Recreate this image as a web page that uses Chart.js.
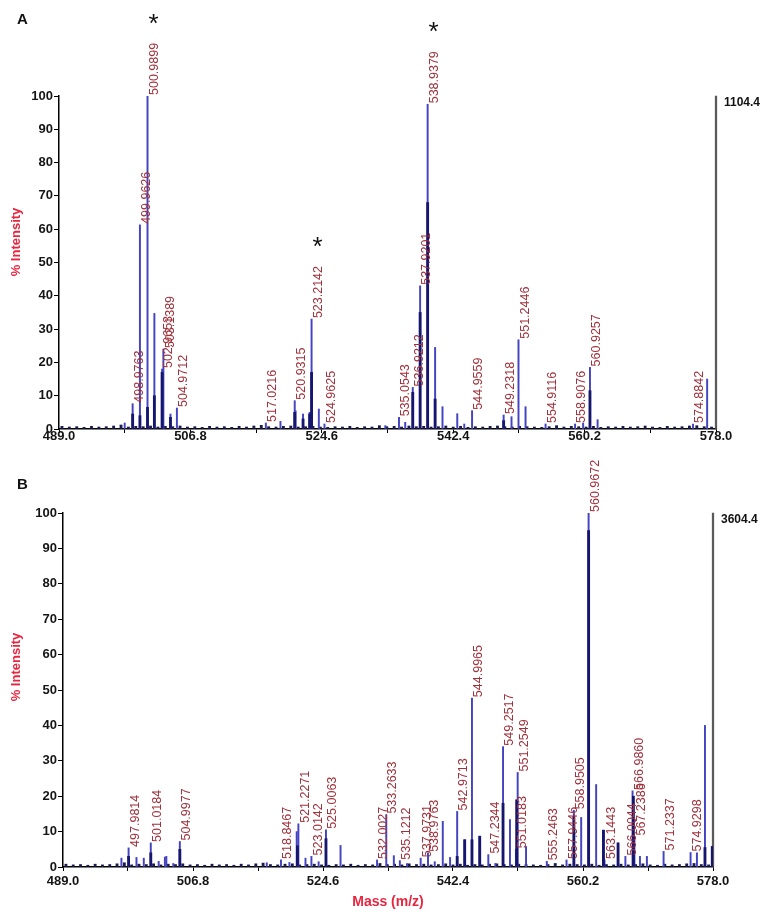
<!DOCTYPE html>
<html>
<head>
<meta charset="utf-8">
<script src="https://cdn.jsdelivr.net/npm/chart.js@4.4.0/dist/chart.umd.min.js"></script>
<style>
  body { margin: 0; background: #fff; }
  #wrap { position: relative; width: 765px; height: 920px; }
  canvas { position: absolute; left: 0; }
</style>
</head>
<body>
<div id="wrap">
  <canvas id="chartA" width="765" height="460" style="top:0"></canvas>
  <canvas id="chartB" width="765" height="470" style="top:450px"></canvas>
</div>
<script>
// axis ticks (m/z)
const xTickLabels = ['489.0', '506.8', '524.6', '542.4', '560.2', '578.0'];
const xMinorTicks = [497.9, 515.7, 533.5, 551.3, 569.1];

// panel A: peak m/z and % intensity
const peaksA_mz = [497.9, 498.9763, 499.9626, 500.9899, 501.92, 502.9653, 503.1389, 504.1, 504.9712,
  517.0216, 519.0, 520.9315, 521.05, 522.06, 522.95, 523.2142, 524.2, 524.9625, 533.2, 535.0543, 535.9,
  536.9212, 537.9201, 538.9379, 539.95, 540.95, 542.95, 543.9, 544.9559, 549.2318, 550.3, 551.2446,
  552.2, 554.9116, 558.9076, 560.0, 560.9257, 561.96, 574.8842, 576.8];
const peaksA_int = [1.8, 7.6, 61.3, 100, 34.7, 18, 24, 4.5, 6.3,
  1.8, 2.3, 8.5, 5.5, 4.5, 5, 33, 6, 1.5, 1, 3.5, 2,
  12.5, 43, 97.5, 24.5, 6.7, 4.6, 1.5, 5.5, 4.2, 3.7, 26.8,
  6.7, 1.5, 1.5, 1.8, 18.5, 2.8, 1.5, 15];
// darker (overlapping) profile parts
const darkA_mz = [498.9763, 499.9626, 500.9899, 501.92, 502.9653, 504.1, 520.9315, 522.06, 522.95,
  523.2142, 536.9212, 537.9201, 538.9379, 539.95, 549.2318, 560.9257];
const darkA_int = [4.5, 4, 6.5, 10, 17, 3.5, 5, 3, 4.5, 17, 11, 35, 68, 9, 2.5, 11.5];
const labelsA = ['498.9763', '499.9626', '500.9899', '502.9653', '503.1389', '504.9712', '517.0216',
  '520.9315', '523.2142', '524.9625', '535.0543', '536.9212', '537.9201', '538.9379', '544.9559',
  '549.2318', '551.2446', '554.9116', '558.9076', '560.9257', '574.8842'];
const starsA = ['500.9899', '523.2142', '538.9379'];
const maxCountA = '1104.4';

// panel B
const peaksB_mz = [497.0, 497.9814, 499.06, 500.06, 501.0184, 502.1, 502.95, 503.15, 504.1, 504.9977,
  516.9, 518.8467, 520.0, 521.0, 521.2271, 522.2, 523.0142, 524.0, 525.0063, 527.0, 532.0027, 533.2633,
  534.3, 535.1212, 536.1, 537.9731, 538.9763, 539.9, 541.0, 542.0, 542.9713, 544.0, 544.9965, 546.06,
  547.2344, 548.2, 549.2517, 550.2, 551.0183, 551.2549, 552.4, 555.2463, 557.9446, 558.9505, 559.95,
  560.9672, 562.0, 563.0, 563.1443, 565.0, 566.0044, 566.986, 567.2386, 568.0, 568.95, 571.2337,
  574.9298, 575.8, 576.9, 577.9];
const peaksB_int = [2.5, 5.4, 2.7, 2.5, 6.8, 1.6, 2.8, 3, 1, 7.2,
  1.2, 2, 1.3, 10, 12.2, 2.5, 3, 1.5, 10.5, 6.1, 2, 14.8,
  3.2, 1.8, 1, 2.5, 4, 1.5, 12.9, 2.7, 15.7, 7.7, 47.7, 8.7,
  3.5, 1, 34, 13.4, 5, 26.7, 5.8, 1.6, 2, 16, 14,
  100, 23.3, 10.4, 2, 6.8, 3, 21.5, 8.6, 3, 3, 4.4,
  4.1, 4, 40, 5.8];
const darkB_mz = [497.9814, 501.0184, 504.9977, 521.1, 525.0063, 542.9713, 544.0, 544.9965, 546.06,
  549.2517, 551.12, 558.9505, 560.9672, 563.0, 565.0, 567.1, 576.9, 577.9];
const darkB_int = [3, 4, 5, 6, 8, 3, 7.7, 7.7, 8.7, 18, 19, 14.3, 95, 10.4, 6.8, 20, 5.5, 5.8];
const labelsB = ['497.9814', '501.0184', '504.9977', '518.8467', '521.2271', '523.0142', '525.0063',
  '532.0027', '533.2633', '535.1212', '537.9731', '538.9763', '542.9713', '544.9965', '547.2344',
  '549.2517', '551.0183', '551.2549', '555.2463', '557.9446', '558.9505', '560.9672', '563.1443',
  '566.0044', '566.9860', '567.2386', '571.2337', '574.9298'];
const maxCountB = '3604.4';

// baseline noise, roughly one blip per Da
const noiseMz = [489.4, 490.4, 491.4, 492.4, 493.4, 494.4, 495.4, 496.4, 497.4, 498.4, 499.4, 500.4,
  501.4, 502.4, 503.4, 504.4, 505.4, 506.4, 507.4, 508.4, 509.4, 510.4, 511.4, 512.4, 513.4, 514.4,
  515.4, 516.4, 517.4, 518.4, 519.4, 520.4, 521.4, 522.4, 523.4, 524.4, 525.4, 526.4, 527.4, 528.4,
  529.4, 530.4, 531.4, 532.4, 533.4, 534.4, 535.4, 536.4, 537.4, 538.4, 539.4, 540.4, 541.4, 542.4,
  543.4, 544.4, 545.4, 546.4, 547.4, 548.4, 549.4, 550.4, 551.4, 552.4, 553.4, 554.4, 555.4, 556.4,
  557.4, 558.4, 559.4, 560.4, 561.4, 562.4, 563.4, 564.4, 565.4, 566.4, 567.4, 568.4, 569.4, 570.4,
  571.4, 572.4, 573.4, 574.4, 575.4, 576.4, 577.4];
const noiseInt = [0.8, 0.6, 0.7, 0.5, 0.8, 0.6, 0.7, 0.9, 1.2, 0.6,
  0.8, 0.7, 0.9, 0.6, 0.8, 0.7, 0.9, 0.6, 0.7, 0.5,
  0.8, 0.6, 0.7, 0.5, 0.8, 0.6, 0.9, 1.1, 0.7, 0.6,
  0.8, 0.9, 0.6, 0.7, 0.8, 0.6, 0.5, 0.7, 0.6, 0.8,
  0.5, 0.7, 0.6, 1.0, 0.7, 0.8, 0.6, 0.9, 0.7, 0.8,
  0.6, 0.7, 0.9, 0.6, 0.8, 0.5, 0.7, 0.6, 0.8, 0.9,
  0.7, 0.6, 0.8, 0.7, 0.6, 0.5, 0.7, 1.0, 0.6, 0.8,
  0.7, 0.6, 0.8, 0.5, 0.7, 0.6, 0.8, 0.6, 0.7, 0.9,
  0.6, 0.5, 0.8, 0.6, 0.7, 0.9, 1.0, 0.7, 0.6];

const FONT = '"Liberation Sans", Arial, sans-serif';
const pts = (xs, ys) => xs.map((x, i) => ({ x, y: ys[i] })).filter(p => p.y !== undefined);

// peak labels, stars, titles
const annotate = {
  id: 'annotate',
  afterDraw(chart, args, o) {
    const { ctx } = chart;
    const x = chart.scales.x, y = chart.scales.y;
    const off = o.top;
    ctx.save();

    ctx.font = '12.5px ' + FONT;
    ctx.fillStyle = '#a0303a';
    ctx.textAlign = 'left';
    ctx.textBaseline = 'top';
    const tops = {};
    o.labels.forEach(s => {
      const v = parseFloat(s);
      const i = o.mz.findIndex(m => Math.abs(m - v) < 1e-4);
      if (i < 0) return;
      const px = x.getPixelForValue(v), py = y.getPixelForValue(o.int[i]);
      ctx.save();
      ctx.translate(px + 0.5, py - 1);
      ctx.rotate(-Math.PI / 2);
      ctx.fillText(s, 0, 0);
      ctx.restore();
      tops[s] = { px, top: py - 1 - ctx.measureText(s).width };
    });

    ctx.fillStyle = '#111';
    ctx.font = '26px ' + FONT;
    ctx.textAlign = 'center';
    ctx.textBaseline = 'alphabetic';
    o.stars.forEach(s => {
      const t = tops[s];
      if (t) ctx.fillText('*', t.px + 6, t.top - 11);
    });

    // total count next to the 100% marker line
    ctx.font = 'bold 12px ' + FONT;
    ctx.textAlign = 'left';
    ctx.textBaseline = 'middle';
    ctx.fillText(o.maxCount, x.getPixelForValue(578) + 8, y.getPixelForValue(100) + 7);

    // panel letter
    ctx.font = 'bold 15px ' + FONT;
    ctx.fillText(o.letter, 17, o.letterY - off);

    // y title
    ctx.fillStyle = '#e8253f';
    ctx.font = 'bold 13px ' + FONT;
    ctx.textAlign = 'center';
    ctx.save();
    ctx.translate(16, o.yTitleY - off);
    ctx.rotate(-Math.PI / 2);
    ctx.fillText('% Intensity', 0, 0);
    ctx.restore();

    if (o.xTitle) {
      ctx.font = 'bold 14px ' + FONT;
      ctx.fillText(o.xTitle, 388, 902 - off);
    }
    ctx.restore();
  }
};

function spectrum(id, p) {
  const majors = xTickLabels.map(parseFloat);
  return new Chart(document.getElementById(id), {
    type: 'bar',
    data: {
      datasets: [
        { data: pts(p.darkMz, p.darkInt), backgroundColor: '#16166e', barThickness: 2.2 },
        { data: pts(p.mz, p.int), backgroundColor: '#4444c0', barThickness: 1.3 },
        { data: pts(noiseMz, noiseInt), backgroundColor: '#1a1a50', barThickness: 2.2 },
        { data: [{ x: 578, y: 100 }], backgroundColor: '#5a5a5a', barThickness: 1.6, clip: false }
      ]
    },
    options: {
      responsive: false,
      animation: false,
      datasets: { bar: { grouped: false, borderWidth: 0 } },
      layout: { padding: p.pad },
      plugins: {
        legend: { display: false },
        tooltip: { enabled: false },
        annotate: {
          mz: p.mz, int: p.int, labels: p.labels, stars: p.stars, maxCount: p.maxCount,
          letter: p.letter, letterY: p.letterY, yTitleY: p.yTitleY, xTitle: p.xTitle, top: p.top
        }
      },
      scales: {
        x: {
          type: 'linear', min: 489, max: 578, offset: false,
          afterBuildTicks: s => {
            s.ticks = majors.concat(xMinorTicks).sort((a, b) => a - b).map(v => ({ value: v }));
          },
          afterFit: s => { s.height = p.xHeight; },
          ticks: {
            autoSkip: false, maxRotation: 0, padding: p.xTickPad, color: '#151515',
            font: { family: FONT, size: 13, weight: 'bold' },
            callback: v => {
              const t = xTickLabels.find(l => Math.abs(parseFloat(l) - v) < 1e-6);
              return t || '';
            }
          },
          grid: { drawOnChartArea: false, offset: false, tickLength: 4, color: '#000' },
          border: { color: '#000', width: 1.5 }
        },
        y: {
          min: 0, max: 100,
          afterFit: s => { s.width = p.yWidth; },
          ticks: {
            stepSize: 5, padding: 1, color: '#151515',
            font: { family: FONT, size: 13, weight: 'bold' },
            callback: v => (v % 10 === 0 ? v : '')
          },
          grid: { drawOnChartArea: false, tickLength: 5, color: '#000' },
          border: { color: '#000', width: 1.5 }
        }
      }
    },
    plugins: [annotate]
  });
}

spectrum('chartA', {
  mz: peaksA_mz, int: peaksA_int, darkMz: darkA_mz, darkInt: darkA_int,
  labels: labelsA, stars: starsA, maxCount: maxCountA,
  letter: 'A', letterY: 20, yTitleY: 242, xTitle: '', top: 0,
  pad: { left: 0, right: 49, top: 96, bottom: 0 }, yWidth: 59, xHeight: 31, xTickPad: -4
});

spectrum('chartB', {
  mz: peaksB_mz, int: peaksB_int, darkMz: darkB_mz, darkInt: darkB_int,
  labels: labelsB, stars: [], maxCount: maxCountB,
  letter: 'B', letterY: 485, yTitleY: 667, xTitle: 'Mass (m/z)', top: 450,
  pad: { left: 0, right: 52, top: 63, bottom: 0 }, yWidth: 63, xHeight: 53, xTickPad: 3
});
</script>
</body>
</html>
